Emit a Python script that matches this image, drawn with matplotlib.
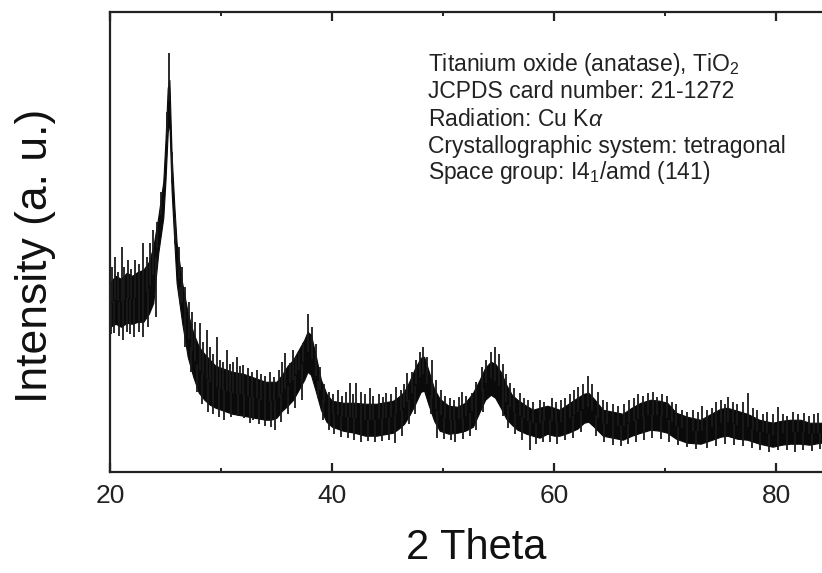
import numpy as np
import matplotlib
matplotlib.use("Agg")
import matplotlib.pyplot as plt

plt.rcParams['font.family'] = ['Liberation Sans', 'DejaVu Sans']
plt.rcParams['mathtext.fontset'] = 'custom'
plt.rcParams['mathtext.rm'] = 'Liberation Sans'
plt.rcParams['mathtext.it'] = 'Liberation Sans:italic'

# ---- data (2 theta in degrees, intensity in a.u.) ----
two_theta = [20.0, 20.5, 21.0, 21.5, 22.0, 22.5, 23.0, 23.5, 23.9, 24.35, 24.8, 25.0,
             25.2, 25.35, 25.55, 25.8, 26.0, 26.5, 27.0, 27.5, 28.0, 28.5, 29.0, 29.5,
             30.0, 30.5, 31.0, 31.5, 32.0, 32.5, 33.0, 33.5, 34.0, 34.5, 35.0, 35.5,
             36.0, 36.5, 37.0, 37.5, 37.8, 38.1, 38.5, 39.0, 39.5, 40.0, 41.0, 42.0,
             43.0, 44.0, 45.0, 45.5, 46.0, 46.5, 47.0, 47.5, 48.0, 48.3, 48.7, 49.2,
             49.7, 50.5, 51.3, 52.0, 52.7, 53.3, 53.8, 54.3, 54.7, 55.2, 55.7, 56.2,
             56.7, 57.5, 58.1, 58.7, 59.4, 60.0, 60.5, 61.3, 62.1, 62.7, 63.1, 63.6,
             64.4, 65.3, 66.2, 67.0, 67.8, 68.7, 69.5, 70.2, 71.0, 72.0, 73.2, 74.0,
             75.0, 75.6, 76.5, 77.4, 78.5, 79.7, 80.5, 81.3, 82.2, 83.0, 84.0, 85.0]
intensity_high = [189, 196, 193, 199, 196, 200, 202, 210, 225, 255, 290, 332,
                  384, 392, 317, 265, 229, 189, 159, 139, 125, 118, 112, 106,
                  104, 102, 100, 99, 98, 96, 94, 92, 90, 90, 90, 97,
                  106, 112, 122, 132, 140, 137, 118, 92, 78, 71, 69, 69,
                  68, 68, 70, 71, 75, 80, 91, 104, 114, 115, 101, 83,
                  73, 66, 65, 69, 79, 92, 104, 110, 108, 100, 87, 77,
                  72, 66, 62, 64, 66, 64, 62, 68, 74, 78, 79, 73,
                  62, 60, 58, 64, 69, 72, 71, 69, 59, 55, 52, 57,
                  63, 64, 61, 58, 52, 49, 51, 52, 52, 49, 49, 49]
intensity_low = [145, 148, 145, 149, 148, 150, 150, 158, 169, 219, 254, 292,
                 340, 350, 281, 229, 189, 149, 115, 95, 79, 72, 67, 64,
                 62, 60, 58, 57, 56, 55, 54, 53, 52, 52, 54, 61,
                 66, 72, 82, 92, 100, 97, 82, 62, 50, 45, 41, 39,
                 36, 36, 38, 39, 43, 48, 57, 68, 80, 81, 67, 51,
                 41, 38, 39, 41, 45, 60, 72, 77, 74, 64, 53, 47,
                 42, 38, 36, 34, 38, 36, 36, 39, 43, 49, 50, 45,
                 36, 34, 32, 36, 39, 42, 41, 39, 33, 29, 28, 31,
                 35, 36, 33, 32, 28, 25, 27, 28, 28, 27, 29, 29]

# noise spikes: upward maxima and downward minima
spike_up_x = [20.15, 20.45, 20.75, 21.05, 21.3, 21.6, 21.9, 22.25, 22.6, 23.0, 23.3, 23.6,
              23.9, 24.2, 24.6, 25.1, 25.35, 25.6, 25.9, 26.2, 26.5, 26.8, 27.1, 27.4,
              27.7, 28.1, 28.4, 28.7, 29.0, 29.3, 29.6, 29.9, 30.2, 30.5, 30.8, 31.1,
              31.4, 31.7, 32.0, 32.4, 32.8, 33.2, 33.6, 34.0, 34.4, 34.8, 35.2, 35.5,
              35.8, 36.2, 36.5, 36.8, 37.0, 37.4, 37.85, 38.2, 38.6, 38.9, 39.3, 39.7,
              40.1, 40.5, 40.9, 41.3, 41.6, 41.9, 42.2, 42.6, 43.0, 43.4, 43.7, 44.2,
              44.6, 44.9, 45.3, 45.8, 46.2, 46.5, 46.8, 47.2, 47.6, 47.9, 48.2, 48.6,
              49.0, 49.4, 49.8, 50.2, 50.6, 51.0, 51.4, 51.7, 52.1, 52.6, 53.0, 53.5,
              53.9, 54.3, 54.7, 55.0, 55.4, 55.7, 56.0, 56.4, 56.9, 57.3, 57.7, 58.1,
              58.7, 59.1, 59.8, 60.2, 60.6, 61.0, 61.4, 61.8, 62.2, 62.6, 63.1, 63.4,
              64.0, 64.4, 64.8, 65.3, 65.8, 66.3, 66.8, 67.2, 67.6, 68.0, 68.5, 68.9,
              69.3, 69.7, 70.2, 70.6, 71.0, 71.5, 72.0, 72.5, 73.0, 73.3, 73.8, 74.2,
              74.6, 75.0, 75.4, 75.7, 76.1, 76.5, 77.0, 77.5, 77.9, 78.3, 78.8, 79.2,
              79.7, 80.2, 80.6, 81.0, 81.5, 82.0, 82.5, 83.0, 83.4, 83.8, 84.3]
spike_up_y = [205, 215, 200, 225, 205, 212, 203, 212, 208, 229, 215, 229,
              242, 250, 280, 360, 419, 320, 255, 225, 205, 185, 170, 160,
              150, 149, 130, 142, 125, 118, 135, 112, 110, 122, 108, 110,
              115, 106, 107, 104, 100, 102, 98, 96, 100, 95, 102, 110,
              119, 109, 122, 115, 119, 129, 158, 145, 128, 105, 88, 80,
              78, 82, 76, 80, 89, 78, 89, 80, 78, 84, 76, 78,
              75, 79, 78, 85, 82, 88, 99, 100, 112, 120, 125, 115,
              112, 92, 82, 76, 74, 72, 75, 80, 76, 79, 90, 105,
              112, 120, 125, 118, 108, 98, 89, 84, 79, 74, 72, 70,
              72, 70, 74, 70, 72, 74, 78, 82, 85, 88, 96, 88,
              80, 72, 70, 68, 66, 68, 72, 74, 78, 76, 79, 80,
              75, 78, 76, 70, 68, 62, 60, 62, 60, 66, 62, 64,
              70, 72, 68, 75, 70, 68, 70, 79, 64, 62, 58, 60,
              58, 65, 58, 56, 60, 58, 59, 56, 58, 59, 56]
spike_down_x = [20.1, 20.4, 20.8, 21.2, 21.5, 21.8, 22.2, 22.6, 23.0, 23.4, 24.1, 26.3,
                26.8, 27.3, 27.8, 28.3, 28.8, 29.3, 29.8, 30.3, 30.9, 31.5, 32.1, 32.6,
                32.9, 33.4, 34.0, 34.5, 34.9, 35.4, 36.0, 36.7, 37.3, 38.7, 39.2, 39.7,
                40.2, 40.8, 41.4, 42.0, 42.6, 43.2, 43.9, 44.5, 45.1, 45.7, 46.3, 46.9,
                47.5, 48.9, 49.5, 50.1, 50.7, 51.1, 51.8, 52.4, 53.0, 53.6, 55.4, 55.9,
                56.5, 57.1, 57.8, 58.4, 59.0, 59.6, 60.3, 61.0, 61.7, 62.4, 63.8, 64.5,
                65.3, 66.0, 66.7, 67.4, 68.1, 68.8, 69.6, 70.4, 71.2, 72.0, 72.8, 73.8,
                74.6, 75.4, 76.2, 77.0, 77.8, 78.6, 79.4, 80.2, 81.0, 81.7, 82.4, 83.2,
                84.0]
spike_down_y = [138, 139, 136, 132, 140, 138, 135, 140, 135, 145, 155, 170,
                125, 100, 80, 68, 60, 58, 55, 52, 55, 56, 54, 49,
                52, 48, 46, 45, 42, 50, 58, 64, 72, 74, 52, 42,
                38, 35, 34, 32, 30, 31, 30, 31, 32, 29, 36, 48,
                58, 58, 34, 33, 32, 30, 33, 36, 42, 60, 56, 44,
                38, 32, 22, 28, 30, 30, 28, 32, 34, 40, 36, 30,
                27, 26, 28, 30, 32, 34, 33, 30, 27, 25, 23, 24,
                26, 28, 27, 26, 24, 22, 20, 22, 22, 20, 22, 21,
                23]

x_ticks = [20, 40, 60, 80]
x_minor = [30, 50, 70]
info_lines = [r"Titanium oxide (anatase), TiO$_2$",
              "JCPDS card number: 21-1272",
              r"Radiation: Cu K$\alpha$",
              "Crystallographic system: tetragonal",
              r"Space group: I4$_1$/amd (141)"]

# ---- figure ----
W, H = 822, 573
fig = plt.figure(figsize=(W / 100, H / 100), dpi=100)
ax = fig.add_axes([110 / W, (H - 471.7) / H, 721.5 / W, 459.7 / H])

xs = np.array(two_theta)
hi = np.array(intensity_high, dtype=float)
lo = np.array(intensity_low, dtype=float)
mid = (hi + lo) / 2

ax.fill_between(xs, lo, hi, color='#0a0a0a', lw=0.8, edgecolor='#0a0a0a')

ux = np.array(spike_up_x)
ax.vlines(ux, np.interp(ux, xs, mid), spike_up_y, color='#1a1a1a', lw=1.3)
dx = np.array(spike_down_x)
ax.vlines(dx, spike_down_y, np.interp(dx, xs, mid), color='#1a1a1a', lw=1.3)

ax.set_xlim(20, 85)
ax.set_ylim(0, 460)
ax.set_xticks(x_ticks)
ax.set_xticks(x_minor, minor=True)
ax.set_yticks([])
ax.tick_params(axis='x', which='major', direction='in', length=6.5, width=1.6,
               labelsize=19, pad=9, top=True, colors='#222222')
ax.tick_params(axis='x', which='minor', direction='in', length=3, width=1.4, top=True,
               colors='#222222')
for s in ax.spines.values():
    s.set_linewidth(1.6)
    s.set_color('#222222')

fig.text(476 / W, 1 - 548 / H, "2 Theta", fontsize=30, ha='center', va='center',
         color='#111111')
fig.text(36 / W, 1 - 256 / H, "Intensity (a. u.)", fontsize=32, rotation=90,
         ha='center', va='center', color='#111111')

for i, line in enumerate(info_lines):
    fig.text(428 / W, 1 - (65 + 27 * i) / H, line, fontsize=16.5, va='center',
             ha='left', color='#222222')

fig.savefig("out.png", dpi=100)
